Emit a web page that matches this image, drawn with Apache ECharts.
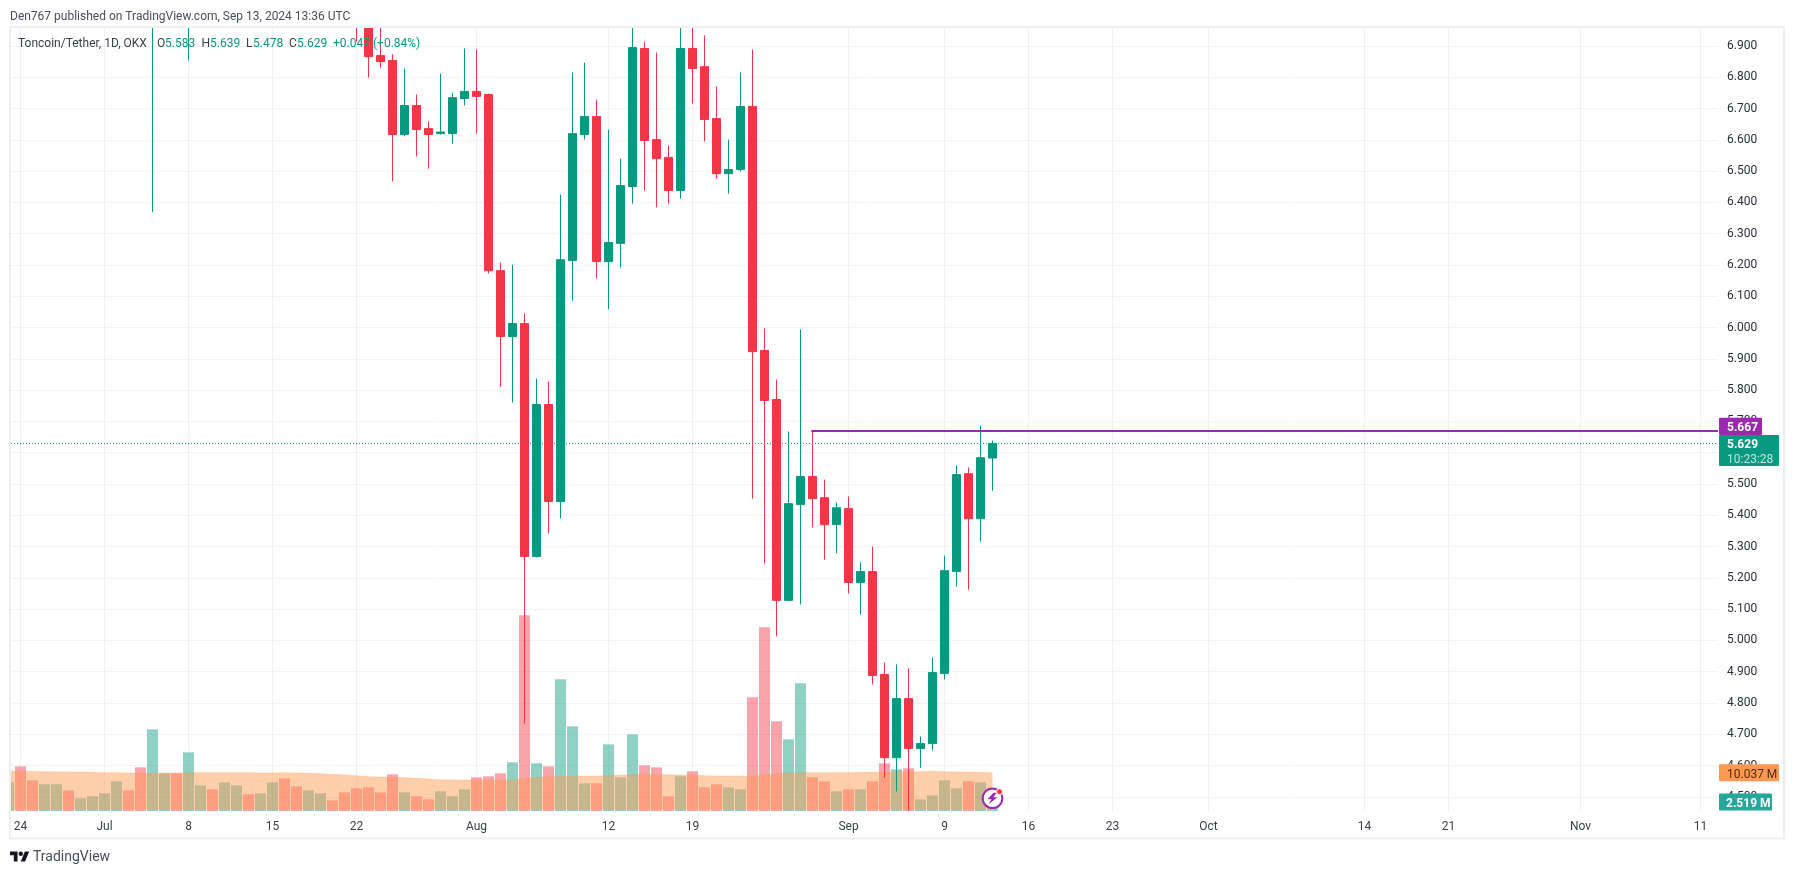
<!DOCTYPE html>
<html>
<head>
<meta charset="utf-8">
<style>html,body{margin:0;padding:0;background:#fff}#c{width:1794px;height:874px}</style>
<script src="https://cdn.jsdelivr.net/npm/echarts@6/dist/echarts.min.js"></script>
</head>
<body>
<div id="c"></div>
<script>
// Day index: 0 = 24 Jun 2024
const xTickDays = [0,7,14,21,28,38,49,56,69,77,84,91,99,112,119,130,140];
const xTickLabels = ['24','Jul','8','15','22','Aug','12','19','Sep','9','16','23','Oct','14','21','Nov','11'];
const priceTicks = [4.5,4.6,4.7,4.8,4.9,5.0,5.1,5.2,5.3,5.4,5.5,5.6,5.7,5.8,5.9,6.0,6.1,6.2,6.3,6.4,6.5,6.6,6.7,6.8,6.9];

const candleDays = [11,14,28,29,30,31,32,33,34,35,36,37,38,39,40,41,42,43,44,45,46,47,48,49,50,51,52,53,54,55,56,57,58,59,60,61,62,63,64,65,66,67,68,69,70,71,72,73,74,75,76,77,78,79,80,81];
const opens  = [7.40,7.30,7.30,7.05,6.870,6.854,6.617,6.710,6.636,6.620,6.620,6.732,6.755,6.745,6.182,5.971,6.013,5.268,5.754,5.444,6.214,6.617,6.675,6.211,6.269,6.451,6.892,6.601,6.544,6.438,6.892,6.834,6.668,6.492,6.505,6.707,5.927,5.770,5.128,5.434,5.524,5.456,5.370,5.421,5.185,5.220,4.891,4.625,4.814,4.654,4.670,4.894,5.220,5.533,5.389,5.583];
const closes = [7.55,7.40,7.05,6.866,6.850,6.617,6.710,6.633,6.617,6.625,6.735,6.755,6.739,6.182,5.971,6.013,5.268,5.754,5.444,6.217,6.620,6.675,6.211,6.272,6.454,6.895,6.598,6.540,6.438,6.892,6.828,6.665,6.492,6.505,6.707,5.923,5.767,5.128,5.437,5.524,5.453,5.370,5.424,5.185,5.220,4.888,4.625,4.814,4.654,4.670,4.897,5.223,5.530,5.389,5.584,5.629];
const lows   = [6.369,6.854,6.915,6.799,6.831,6.467,6.611,6.547,6.508,6.617,6.588,6.710,6.620,6.173,5.811,5.760,4.734,5.265,5.342,5.390,6.086,6.601,6.157,6.058,6.192,6.396,6.438,6.384,6.396,6.412,6.716,6.595,6.476,6.428,6.499,5.453,5.246,5.013,5.125,5.115,5.361,5.258,5.278,5.150,5.083,4.859,4.561,4.517,4.456,4.593,4.648,4.875,5.172,5.162,5.316,5.478];
const highs  = [7.70,7.60,7.40,7.10,7.00,6.873,6.828,6.745,6.659,6.812,6.751,6.892,6.889,6.748,6.208,6.201,6.045,5.837,5.827,6.425,6.815,6.847,6.729,6.633,6.540,7.02,6.914,6.879,6.582,7.00,7.00,6.934,6.771,6.601,6.815,6.889,5.997,5.834,5.668,5.994,5.671,5.514,5.441,5.460,5.249,5.300,4.929,4.923,4.910,4.693,4.945,5.271,5.559,5.553,5.687,5.639];

// Volume bars in millions, first entry is day -1
const volumeFirstDay = -1;
const volumes = [7.56,11.79,8.09,7.04,7.04,5.45,3.34,3.87,4.66,7.83,5.45,11.52,21.55,9.94,9.94,15.48,6.77,5.72,7.56,6.77,4.40,4.66,7.56,8.62,6.51,5.45,4.66,2.81,4.93,5.98,6.24,4.93,9.67,4.93,3.87,3.08,5.19,3.87,5.72,8.88,9.15,9.94,12.84,51.63,12.58,11.79,34.74,22.34,7.30,7.30,17.59,8.88,20.23,12.05,11.52,3.87,9.15,10.47,6.24,7.04,6.24,5.72,29.99,48.46,23.66,18.91,33.69,8.88,7.83,5.19,5.72,5.72,7.83,12.58,10.99,11.26,3.08,4.13,8.09,5.98,7.83,7.56,2.519];
const volumeDir = ('GRRGGRGGGG'+'RRGGRGGRGG'+'RGGRRGGRRR'+'RRRGRRGGGR'+'RRGRGRGGGR'+'GGGRRRGRRR'+'GGRRRGGRRG'+'RGRRGRGGGG'+'RGG').split('');
const volumeMA = [10.47,10.47,10.47,10.38,10.38,10.29,10.29,10.20,10.11,10.11,10.03,9.94,9.94,10.03,10.03,10.11,10.11,10.11,10.11,10.11,10.11,10.03,10.03,10.11,10.03,9.94,9.85,9.67,9.50,9.32,9.06,8.97,8.88,8.80,8.62,8.44,8.27,8.18,8.18,8.09,8.09,8.09,8.18,8.62,8.88,8.97,9.15,9.23,9.23,9.23,9.32,9.41,9.59,9.67,9.67,9.59,9.50,9.41,9.32,9.23,9.23,9.23,9.15,9.50,9.85,10.03,10.11,10.11,10.11,10.11,10.11,10.20,10.20,10.20,10.29,10.38,10.38,10.47,10.38,10.29,10.29,10.20,10.037];

const resistanceDay = 66, resistanceLevel = 5.6693, lastLevel = 5.6296;
const X_MIN = -0.7917, X_MAX = 141.458;
const Y_MIN = 4.4546, Y_MAX = 6.9576;
const VOL_MAX = 206.6;

const FONT = 'Roboto, sans-serif';
const GREEN = '#089981', RED = '#F23645', PURPLE = '#9C27B0', ORANGE = '#FF9850';

const chart = echarts.init(document.getElementById('c'), null, {renderer:'canvas', width:1794, height:874});

const candleData = candleDays.map((d,k)=>[d,opens[k],closes[k],lows[k],highs[k]]);
const volumeData = volumes.map((v,k)=>({
  value:[volumeFirstDay+k,v],
  itemStyle:{color: volumeDir[k]==='G' ? 'rgba(8,153,129,0.45)' : 'rgba(242,54,69,0.45)'}
}));
const maData = volumeMA.map((v,k)=>[volumeFirstDay+k,v]);

chart.setOption({
  animation:false,
  backgroundColor:'#ffffff',
  grid:{left:11,top:28,width:1707,height:783,containLabel:false},
  xAxis:{
    type:'value',min:X_MIN,max:X_MAX,
    axisLine:{show:false},
    axisTick:{show:false,customValues:xTickDays},
    splitLine:{show:true,lineStyle:{color:'#eff0f3',width:1}},
    axisLabel:{
      customValues:xTickDays,margin:10,hideOverlap:false,showMinLabel:true,showMaxLabel:true,
      color:'#3a3e49',fontFamily:FONT,fontSize:12,
      formatter:v=>xTickLabels[xTickDays.indexOf(v)]
    }
  },
  yAxis:[
    {type:'value',position:'right',min:Y_MIN,max:Y_MAX,scale:true,
     axisLine:{show:false},
     axisTick:{show:false,customValues:priceTicks},
     splitLine:{show:true,lineStyle:{color:'#f2f3f6',width:1}},
     axisLabel:{customValues:priceTicks,margin:9,padding:[5,0,0,0],color:'#2a2e39',fontFamily:FONT,fontSize:12,
       formatter:v=>v.toFixed(3)}
    },
    {type:'value',position:'left',min:0,max:VOL_MAX,show:false,splitLine:{show:false}}
  ],
  series:[
    {type:'bar',name:'Volume',yAxisIndex:1,barWidth:11,data:volumeData,z:2,clip:true},
    {type:'line',name:'Volume MA',yAxisIndex:1,data:maData,showSymbol:false,symbol:'none',z:3,clip:true,
     lineStyle:{color:'rgba(255,152,80,0.25)',width:1},
     areaStyle:{color:'rgba(255,152,80,0.48)',opacity:1,origin:0.35}},
    {type:'line',name:'Last price',yAxisIndex:0,data:[[X_MIN,lastLevel],[X_MAX,lastLevel]],showSymbol:false,symbol:'none',z:6,
     lineStyle:{color:GREEN,width:1,type:[1,2]}},
    {type:'candlestick',name:'TONUSDT',yAxisIndex:0,data:candleData,barWidth:8,z:5,clip:true,
     encode:{x:0,y:[1,2,3,4]},
     itemStyle:{color:GREEN,color0:RED,borderColor:GREEN,borderColor0:RED,borderWidth:1}},
    {type:'line',name:'Resistance',yAxisIndex:0,data:[[resistanceDay-0.1,resistanceLevel],[X_MAX,resistanceLevel]],showSymbol:false,symbol:'none',z:7,
     lineStyle:{color:PURPLE,width:2}}
  ]
});

// Overlay annotations anchored to the price scale
const py = v => chart.convertToPixel({yAxisIndex:0}, v);
const my = v => chart.convertToPixel({yAxisIndex:1}, v);
const dx = d => chart.convertToPixel({xAxisIndex:0}, d);
const txt = (x,y,text,fill,font)=>({type:'text',x,y:y+2,silent:true,z:100,style:{text,fill,font:font||('12px '+FONT),verticalAlign:'middle',align:'left'}});
const rect = (x,y,w,h,fill)=>({type:'rect',silent:true,z:99,shape:{x,y,width:w,height:h,r:1},style:{fill}});
const poly = (points,fill,z)=>({type:'polygon',silent:true,z:z||100,shape:{points},style:{fill}});

const lastDay = candleDays[candleDays.length-1];
const ICON_X = dx(lastDay), ICON_Y = 798.3;
const volLast = volumes[volumes.length-1], maLast = volumeMA[volumeMA.length-1];
const TAG = 1719;
const lx = v => 10 + v*0.54, ly = v => 851.5 + (v-4)*0.55;
const elements = [
  {type:'rect',silent:true,z:97,shape:{x:0,y:0,width:1794,height:27},style:{fill:'#fff'}},
  {type:'rect',silent:true,z:97,shape:{x:0,y:0,width:10,height:874},style:{fill:'#fff'}},
  {type:'rect',silent:true,z:98,shape:{x:10,y:27,width:1774,height:811.5},style:{fill:null,stroke:'#eeeff4',lineWidth:2}},
  txt(10,15,'Den767 published on TradingView.com, Sep 13, 2024 13:36 UTC','#4a4e59','12px '+FONT),
  txt(18,41.7,'Toncoin/Tether, 1D, OKX','#3a3e49','12px '+FONT),
  txt(157,41.7,'O','#3a3e49'), txt(165,41.7,'5.583',GREEN),
  txt(201.5,41.7,'H','#3a3e49'), txt(210,41.7,'5.639',GREEN),
  txt(246,41.7,'L','#3a3e49'), txt(253,41.7,'5.478',GREEN),
  txt(289,41.7,'C','#3a3e49'), txt(297,41.7,'5.629',GREEN),
  txt(333,41.7,'+0.047',GREEN), txt(373,41.7,'(+0.84%)',GREEN),
  rect(TAG,py(resistanceLevel)-13.3,43,17.3,PURPLE),
  txt(TAG+8,py(resistanceLevel)-4.6,'5.667','#fff','bold 12px '+FONT),
  rect(TAG,py(lastLevel)-8.4,60,31,GREEN),
  txt(TAG+8,py(lastLevel)-0.5,'5.629','#fff','bold 12px '+FONT),
  txt(TAG+8,py(lastLevel)+14.5,'10:23:28','#bfe6df','12px '+FONT),
  rect(TAG,my(maLast)-8.7,60,17,ORANGE),
  txt(TAG+8,my(maLast)-0.2,'10.037 M','#4a2c12','12px '+FONT),
  rect(TAG,my(volLast)-8,53,17,'#26A69A'),
  txt(TAG+7,my(volLast)+0.5,'2.519 M','#fff','bold 12px '+FONT),
  {type:'circle',silent:true,z:101,shape:{cx:ICON_X,cy:ICON_Y,r:9.8},style:{fill:'#fff',stroke:PURPLE,lineWidth:2}},
  poly([[ICON_X+1,ICON_Y-5.5],[ICON_X-5,ICON_Y+1],[ICON_X-1,ICON_Y+1],[ICON_X-4,ICON_Y+6],[ICON_X+5,ICON_Y-1],[ICON_X+1,ICON_Y-1],[ICON_X+4,ICON_Y-5.5]],PURPLE,102),
  {type:'circle',silent:true,z:103,shape:{cx:ICON_X+7,cy:ICON_Y-6.6,r:3},style:{fill:RED,stroke:'#fff',lineWidth:1}},
  poly([[lx(0),ly(4)],[lx(14),ly(4)],[lx(14),ly(22)],[lx(7),ly(22)],[lx(7),ly(11)],[lx(0),ly(11)]],'#131722'),
  poly([[lx(20),ly(22)],[lx(28),ly(22)],[lx(35.5),ly(4)],[lx(27.5),ly(4)]],'#131722'),
  {type:'circle',silent:true,z:100,shape:{cx:lx(20),cy:ly(8),r:2.2},style:{fill:'#131722'}},
  txt(33,855,'TradingView','#4a4e59','14px '+FONT)
];
chart.setOption({graphic:{elements}});
</script>
</body>
</html>
